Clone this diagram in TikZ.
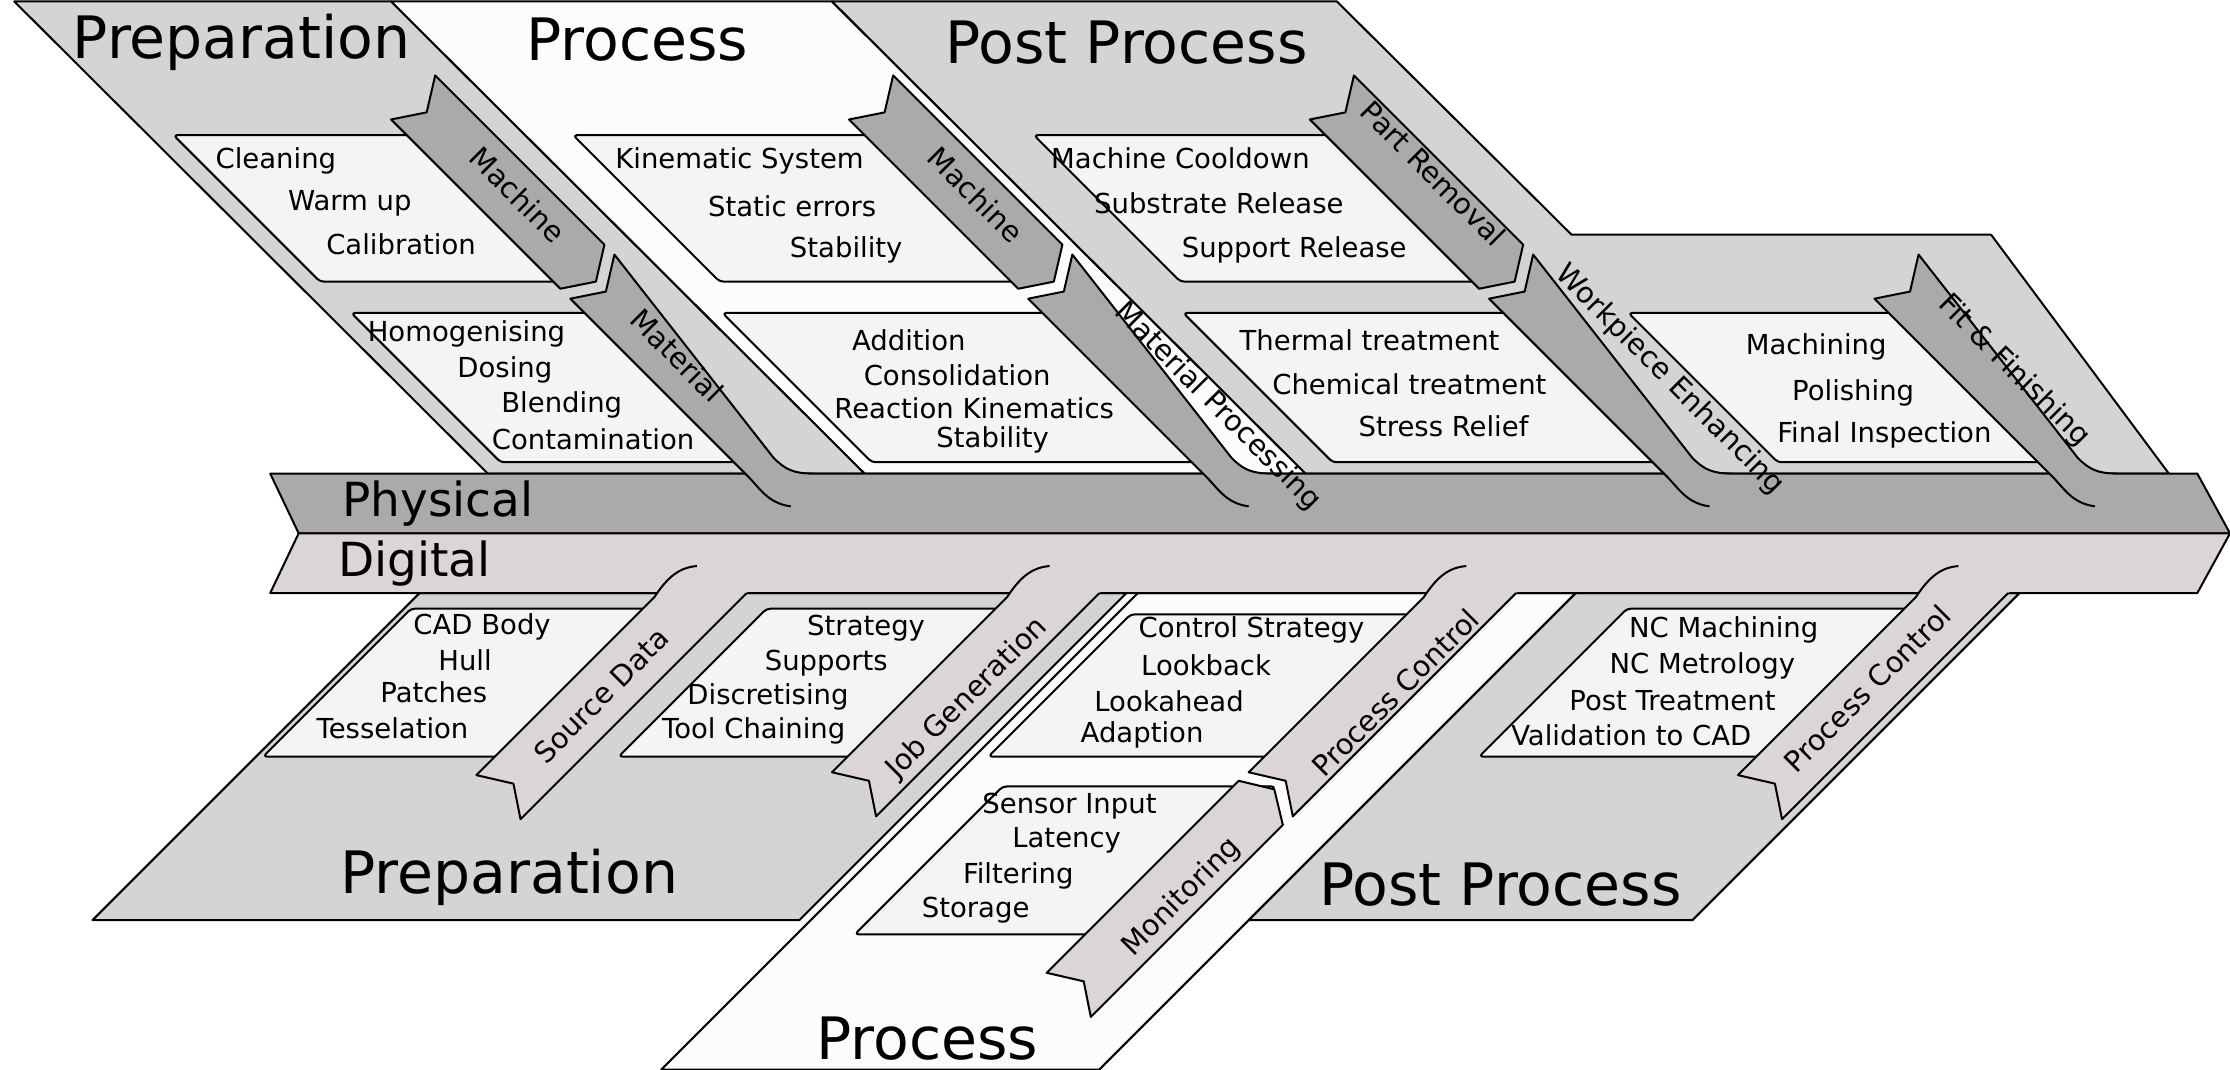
\documentclass[tikz,border=0pt]{standalone}
\usepackage{fontspec}
\setmainfont{DejaVu Sans}
\definecolor{regiongray}{HTML}{D4D4D4}
\definecolor{boxfill}{HTML}{F4F4F2}
\definecolor{physgray}{HTML}{AAAAAA}
\definecolor{digigray}{HTML}{DBD5D5}
\definecolor{paper}{HTML}{FCFCFC}
\begin{document}
\begin{tikzpicture}
    [x=0.02cm, y=-0.02cm, line width=0.8pt, line join=round,
    region/.style = {draw=black, fill=regiongray},
    lightregion/.style = {draw=black, fill=paper},
    box/.style = {draw=black, fill=boxfill, rounded corners=1.5pt},
    item/.style = {font=\fontsize{11}{13}\selectfont, inner sep=0pt},
    bandtext/.style = {font=\fontsize{11.5}{13}\selectfont, inner sep=0pt},
    phase/.style = {font=\fontsize{23.4}{28}\selectfont, inner sep=0pt},
    spinetext/.style = {font=\fontsize{18.8}{22}\selectfont, inner sep=0pt}]
    \useasboundingbox (0,0) rectangle (1568,752);
    % upper regions
    \draw[region] (10,1) -- (275,1) -- (608,333) -- (343,333) -- cycle;
    \draw[lightregion] (275,1) -- (585,1) -- (918,333) -- (608,333) -- cycle;
    \draw[region] (585,1) -- (940,1) -- (1105,165) -- (1400,165) -- (1525,333) -- (918,333) -- cycle;
    % lower regions
    \draw[region] (295,417) -- (792,417) -- (562,647) -- (65,647) -- cycle;
    \draw[lightregion] (800,417) -- (1108,417) -- (773,752) -- (465,752) -- cycle;
    \draw[region] (1108,417) -- (1420,417) -- (1190,647) -- (878,647) -- cycle;
    % upper boxes
    \draw[box] (122,95) -- (316,95) -- (419,198) -- (225,198) -- cycle;
    \draw[box] (247,220) -- (441,220) -- (546,325) -- (352,325) -- cycle;
    \draw[box] (403,95) -- (638,95) -- (741,198) -- (506,198) -- cycle;
    \draw[box] (508,220) -- (763,220) -- (868,325) -- (613,325) -- cycle;
    \draw[box] (727,95) -- (962,95) -- (1065,198) -- (830,198) -- cycle;
    \draw[box] (832,220) -- (1087,220) -- (1192,325) -- (937,325) -- cycle;
    \draw[box] (1145,220) -- (1358,220) -- (1463,325) -- (1250,325) -- cycle;
    % lower boxes
    \draw[box] (289,428) -- (482,428) -- (378,532) -- (185,532) -- cycle;
    \draw[box] (539,428) -- (730,428) -- (626,532) -- (435,532) -- cycle;
    \draw[box] (795,432) -- (1019,432) -- (919,532) -- (695,532) -- cycle;
    \draw[box] (705,553) -- (897,553) -- (793,657) -- (601,657) -- cycle;
    \draw[box] (1144,428) -- (1369,428) -- (1265,532) -- (1040,532) -- cycle;
    % spine
    \draw[fill=physgray] (190,333) -- (1545,333) -- (1568,375) -- (210,375) -- cycle;
    \draw[fill=digigray] (210,375) -- (1568,375) -- (1545,417) -- (190,417) -- cycle;
    % upper bands with arrow end
    \draw[fill=physgray] (275,84) -- (300,79) -- (306,53) -- (425,172) -- (419,198) -- (394,203) -- cycle;
    \draw[fill=physgray] (597,84) -- (622,79) -- (628,53) -- (747,172) -- (741,198) -- (716,203) -- cycle;
    \draw[fill=physgray] (921,84) -- (946,79) -- (952,53) -- (1071,172) -- (1065,198) -- (1040,203) -- cycle;
    % upper bands running into the spine
    \fill[physgray] (401,210) -- (426,205) -- (432,179) -- (544,322) .. controls (552,330) and (558,333) .. (572,333)
        -- (572,356) -- (556,356) .. controls (540,354) and (534,343) .. (526,335) -- cycle;
    \draw (572,333) .. controls (558,333) and (552,330) .. (544,322) -- (432,179) -- (426,205) -- (401,210)
        -- (526,335) .. controls (534,343) and (540,354) .. (556,356);
    \fill[physgray] (723,210) -- (748,205) -- (754,179) -- (866,322) .. controls (874,330) and (880,333) .. (894,333)
        -- (894,356) -- (878,356) .. controls (862,354) and (856,343) .. (848,335) -- cycle;
    \draw (894,333) .. controls (880,333) and (874,330) .. (866,322) -- (754,179) -- (748,205) -- (723,210)
        -- (848,335) .. controls (856,343) and (862,354) .. (878,356);
    \fill[physgray] (1047,210) -- (1072,205) -- (1078,179) -- (1190,322) .. controls (1198,330) and (1204,333) .. (1218,333)
        -- (1218,356) -- (1202,356) .. controls (1186,354) and (1180,343) .. (1172,335) -- cycle;
    \draw (1218,333) .. controls (1204,333) and (1198,330) .. (1190,322) -- (1078,179) -- (1072,205) -- (1047,210)
        -- (1172,335) .. controls (1180,343) and (1186,354) .. (1202,356);
    \fill[physgray] (1318,210) -- (1343,205) -- (1349,179) -- (1461,322) .. controls (1469,330) and (1475,333) .. (1489,333)
        -- (1489,356) -- (1473,356) .. controls (1457,354) and (1451,343) .. (1443,335) -- cycle;
    \draw (1489,333) .. controls (1475,333) and (1469,330) .. (1461,322) -- (1349,179) -- (1343,205) -- (1318,210)
        -- (1443,335) .. controls (1451,343) and (1457,354) .. (1473,356);
    % lower bands running into the spine
    \fill[digigray] (335,545) -- (361,551) -- (366,576) -- (544,398) -- (490,398) .. controls (476,399) and (468,408) .. (460,420) -- cycle;
    \draw (525,417) -- (366,576) -- (361,551) -- (335,545) -- (460,420) .. controls (468,408) and (476,399) .. (490,398);
    \fill[digigray] (585,543) -- (611,549) -- (616,574) -- (792,398) -- (738,398) .. controls (724,399) and (716,408) .. (708,420) -- cycle;
    \draw (773,417) -- (616,574) -- (611,549) -- (585,543) -- (708,420) .. controls (716,408) and (724,399) .. (738,398);
    \fill[digigray] (878,543) -- (904,549) -- (909,574) -- (1085,398) -- (1031,398) .. controls (1017,399) and (1009,408) .. (1001,420) -- cycle;
    \draw (1066,417) -- (909,574) -- (904,549) -- (878,543) -- (1001,420) .. controls (1009,408) and (1017,399) .. (1031,398);
    \fill[digigray] (1222,545) -- (1248,551) -- (1253,576) -- (1431,398) -- (1377,398) .. controls (1363,399) and (1355,408) .. (1347,420) -- cycle;
    \draw (1412,417) -- (1253,576) -- (1248,551) -- (1222,545) -- (1347,420) .. controls (1355,408) and (1363,399) .. (1377,398);
    % lower band with arrow end
    \draw[fill=digigray] (736,684) -- (762,690) -- (767,715) -- (902,580) -- (896,555) -- (871,549) -- cycle;
    % phase labels
    \node[phase] (prepTop) at (170,30) {Preparation};
    \node[phase] (procTop) at (448,28) {Process};
    \node[phase] (postTop) at (792,30) {Post Process};
    \node[phase] (prepBot) at (358,617) {Preparation};
    \node[phase] (procBot) at (652,730) {Process};
    \node[phase] (postBot) at (1055,622) {Post Process};
    \node[spinetext, anchor=west] (physical) at (240,354) {Physical};
    \node[spinetext, anchor=west] (digital) at (237,396) {Digital};
    % band labels
    \node[bandtext, rotate=-45] (machPrep) at (364,137) {Machine};
    \node[bandtext, rotate=-45] (matPrep) at (476,250) {Material};
    \node[bandtext, rotate=-45] (machProc) at (686,137) {Machine};
    \node[bandtext, rotate=-45] (matProc) at (856,286) {Material Processing};
    \node[bandtext, rotate=-45] (partRem) at (1008,122) {Part Removal};
    \node[bandtext, rotate=-45] (workEnh) at (1174,267) {Workpiece Enhancing};
    \node[bandtext, rotate=-45] (fitFin) at (1416,261) {Fit \& Finishing};
    \node[bandtext, rotate=45] (srcData) at (423,489) {Source Data};
    \node[bandtext, rotate=45] (jobGen) at (680,491) {Job Generation};
    \node[bandtext, rotate=45] (procCtrlA) at (981,487) {Process Control};
    \node[bandtext, rotate=45] (monit) at (831,631) {Monitoring};
    \node[bandtext, rotate=45] (procCtrlB) at (1313,484) {Process Control};
    % items
    \node[item] (cleaning) at (194,113) {Cleaning};
    \node[item] (warmup) at (246,143) {Warm up};
    \node[item] (calib) at (282,172) {Calibration};
    \node[item] (homog) at (328,235) {Homogenising};
    \node[item] (dosing) at (355,260) {Dosing};
    \node[item] (blend) at (395,285) {Blending};
    \node[item] (contam) at (417,309) {Contamination};
    \node[item] (kinem) at (520,113) {Kinematic System};
    \node[item] (staterr) at (557,145) {Static errors};
    \node[item] (stabA) at (595,176) {Stability};
    \node[item] (addit) at (639,239) {Addition};
    \node[item] (consol) at (673,264) {Consolidation};
    \node[item] (react) at (685,287) {Reaction Kinematics};
    \node[item] (stabB) at (698,309) {Stability};
    \node[item] (cooldown) at (830,111) {Machine Cooldown};
    \node[item] (substr) at (857,143) {Substrate Release};
    \node[item] (support) at (910,176) {Support Release};
    \node[item] (thermal) at (963,239) {Thermal treatment};
    \node[item] (chemical) at (991,270) {Chemical treatment};
    \node[item] (stress) at (1015,300) {Stress Relief};
    \node[item] (machining) at (1277,244) {Machining};
    \node[item] (polish) at (1303,276) {Polishing};
    \node[item] (finalins) at (1325,306) {Final Inspection};
    \node[item] (cadbody) at (339,441) {CAD Body};
    \node[item] (hull) at (327,464) {Hull};
    \node[item] (patches) at (305,487) {Patches};
    \node[item] (tessel) at (276,512) {Tesselation};
    \node[item] (strategy) at (609,442) {Strategy};
    \node[item] (supports) at (581,466) {Supports};
    \node[item] (discret) at (540,490) {Discretising};
    \node[item] (toolch) at (530,514) {Tool Chaining};
    \node[item] (ctrlstr) at (880,443) {Control Strategy};
    \node[item] (lookback) at (848,468) {Lookback};
    \node[item] (lookahead) at (822,493) {Lookahead};
    \node[item] (adapt) at (803,517) {Adaption};
    \node[item] (sensor) at (752,567) {Sensor Input};
    \node[item] (latency) at (750,591) {Latency};
    \node[item] (filter) at (716,616) {Filtering};
    \node[item] (storage) at (686,640) {Storage};
    \node[item] (ncmach) at (1212,443) {NC Machining};
    \node[item] (ncmetro) at (1197,468) {NC Metrology};
    \node[item] (posttreat) at (1176,493) {Post Treatment};
    \node[item] (validcad) at (1147,517) {Validation to CAD};
\end{tikzpicture}
\end{document}
